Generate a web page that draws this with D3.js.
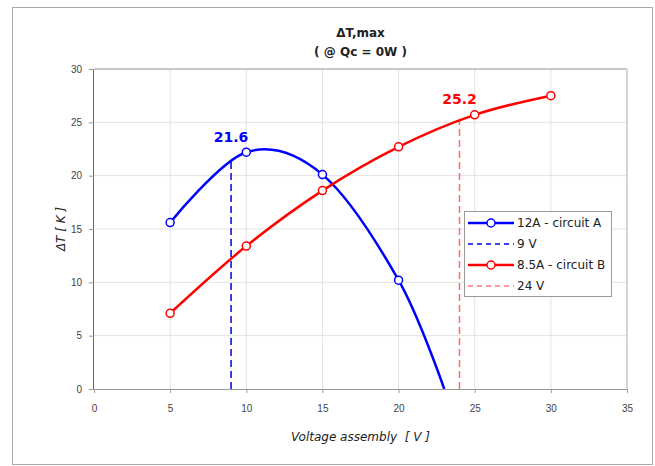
<!DOCTYPE html>
<html>
<head>
<meta charset="utf-8">
<script src="https://cdn.jsdelivr.net/npm/d3@7"></script>
<style>
  body { margin: 0; background: #fff; }
  svg { font-family: "DejaVu Sans", sans-serif; }
</style>
</head>
<body>
<svg id="chart" width="655" height="466"></svg>
<script>
// data
var voltsA = [5, 10, 15, 20]
var deltaA = [15.6, 22.2, 20.1, 10.2]
var tailA = [23, 0] // where the blue curve leaves the plot (no marker)
var voltsB = [5, 10, 15, 20, 25, 30]
var deltaB = [7.1, 13.4, 18.6, 22.7, 25.7, 27.5]
var markA = { v: 9, dt: 21.6, label: '21.6' }
var markB = { v: 24, dt: 25.2, label: '25.2' }
var xTicks = [0, 5, 10, 15, 20, 25, 30, 35]
var yTicks = [0, 5, 10, 15, 20, 25, 30]
var legendNames = ['12A - circuit A', '9 V', '8.5A - circuit B', '24 V']

var margin = { top: 69, right: 28, bottom: 77, left: 94 }
var width = 655, height = 466
var svg = d3.select('#chart')

// outer frame
svg.append('rect')
  .attr('x', 12.5).attr('y', 7.5)
  .attr('width', 640).attr('height', 457)
  .attr('fill', 'none').attr('stroke', '#aaa')

var xScale = d3.scaleLinear().domain([0, 35]).range([margin.left, width - margin.right])
var yScale = d3.scaleLinear().domain([0, 30]).range([height - margin.bottom, margin.top])

var x0 = xScale(0), x1 = xScale(35), y0 = yScale(0), y1 = yScale(30)

// grid
var grid = svg.append('g')
grid.selectAll('.vg').data(xTicks.slice(1)).enter().append('line')
  .attr('x1', d => xScale(d)).attr('x2', d => xScale(d))
  .attr('y1', y0).attr('y2', y1)
  .attr('stroke', '#e2e2e2')
grid.selectAll('.hg').data(yTicks.slice(1)).enter().append('line')
  .attr('x1', x0).attr('x2', x1)
  .attr('y1', d => yScale(d)).attr('y2', d => yScale(d))
  .attr('stroke', '#e2e2e2')

// plot border top / right
svg.append('line').attr('x1', x0).attr('x2', x1).attr('y1', y1).attr('y2', y1)
  .attr('stroke', '#c8c8c8').attr('stroke-width', 2)
svg.append('line').attr('x1', x1).attr('x2', x1).attr('y1', y1).attr('y2', y0)
  .attr('stroke', '#bbb')

// axes
var xAxis = d3.axisBottom(xScale).tickValues(xTicks).tickSize(4).tickPadding(12)
var yAxis = d3.axisLeft(yScale).tickValues(yTicks).tickSize(5).tickPadding(7)

var gx = svg.append('g').attr('transform', 'translate(0,' + y0 + ')').call(xAxis)
var gy = svg.append('g').attr('transform', 'translate(' + x0 + ',0)').call(yAxis)
gx.select('.domain').attr('stroke', '#999').attr('d', 'M' + x0 + ',0.5H' + x1)
gy.select('.domain').attr('stroke', '#666').attr('d', 'M-0.5,' + y0 + 'V' + y1)
gx.selectAll('.tick line').attr('stroke', '#999')
gy.selectAll('.tick line').attr('stroke', '#999')
gx.selectAll('text').attr('fill', '#444').style('font-size', '10px')
gy.selectAll('text').attr('fill', '#444').style('font-size', '10px')

// clip for the curves
svg.append('clipPath').attr('id', 'plotClip')
  .append('rect').attr('x', x0).attr('y', y1 - 6)
  .attr('width', x1 - x0 + 6).attr('height', y0 - y1 + 6)

var line = d3.line()
  .x(d => xScale(d[0])).y(d => yScale(d[1]))
  .curve(d3.curveCardinal.tension(0))

var ptsA = voltsA.map((v, i) => [v, deltaA[i]])
var ptsB = voltsB.map((v, i) => [v, deltaB[i]])

// dashed markers
svg.append('line')
  .attr('x1', xScale(markA.v)).attr('x2', xScale(markA.v))
  .attr('y1', y0).attr('y2', yScale(markA.dt))
  .attr('stroke', '#0000dd').attr('stroke-width', 1.5).attr('stroke-dasharray', '7,4')
svg.append('line')
  .attr('x1', xScale(markB.v)).attr('x2', xScale(markB.v))
  .attr('y1', y0).attr('y2', yScale(markB.dt))
  .attr('stroke', '#ff6b6b').attr('stroke-width', 1.5).attr('stroke-dasharray', '7,4')

var curves = svg.append('g').attr('clip-path', 'url(#plotClip)')
curves.append('path').datum(ptsA.concat([tailA]))
  .attr('d', line).attr('fill', 'none').attr('stroke', '#0000ff').attr('stroke-width', 2.5)
curves.append('path').datum(ptsB)
  .attr('d', line).attr('fill', 'none').attr('stroke', '#ff0000').attr('stroke-width', 2.5)

svg.append('g').selectAll('circle').data(ptsA).enter().append('circle')
  .attr('cx', d => xScale(d[0])).attr('cy', d => yScale(d[1])).attr('r', 4)
  .attr('fill', '#fff').attr('stroke', '#0000ff').attr('stroke-width', 1.5)
svg.append('g').selectAll('circle').data(ptsB).enter().append('circle')
  .attr('cx', d => xScale(d[0])).attr('cy', d => yScale(d[1])).attr('r', 4)
  .attr('fill', '#fff').attr('stroke', '#ff0000').attr('stroke-width', 1.5)

// value labels
svg.append('text').attr('x', xScale(markA.v)).attr('y', yScale(markA.dt) - 17)
  .attr('text-anchor', 'middle').attr('fill', '#0000ff')
  .style('font-size', '14px').style('font-weight', 'bold').text(markA.label)
svg.append('text').attr('x', xScale(markB.v)).attr('y', yScale(markB.dt) - 16)
  .attr('text-anchor', 'middle').attr('fill', '#ff0000')
  .style('font-size', '14px').style('font-weight', 'bold').text(markB.label)

// titles
svg.append('text').attr('x', (x0 + x1) / 2).attr('y', 37).attr('text-anchor', 'middle')
  .style('font-size', '12px').style('font-weight', 'bold').attr('fill', '#222').text('ΔT,max')
svg.append('text').attr('x', (x0 + x1) / 2).attr('y', 56).attr('text-anchor', 'middle')
  .style('font-size', '12px').style('font-weight', 'bold').attr('fill', '#222').text('( @ Qc = 0W )')
svg.append('text').attr('x', (x0 + x1) / 2).attr('y', 441).attr('text-anchor', 'middle')
  .style('font-size', '12px').style('font-style', 'italic').style('white-space', 'pre')
  .attr('fill', '#222')
  .text('Voltage assembly  [ V ]')
svg.append('text').attr('transform', 'translate(65,' + ((y0 + y1) / 2) + ') rotate(-90)')
  .attr('text-anchor', 'middle')
  .style('font-size', '12px').style('font-style', 'italic').attr('fill', '#222')
  .text('ΔT [ K ]')

// legend
var leg = svg.append('g').attr('transform', 'translate(464,211)')
leg.append('rect').attr('x', 0.5).attr('y', 0.5).attr('width', 147).attr('height', 85)
  .attr('fill', '#fff').attr('stroke', '#999')
var legStyle = [
  { c: '#0000ff', dash: null, dot: true },
  { c: '#0000dd', dash: '5,4', dot: false },
  { c: '#ff0000', dash: null, dot: true },
  { c: '#ff7a7a', dash: '5,4', dot: false }
]
legendNames.forEach(function(name, i) {
  var yy = 12 + i * 21
  var s = legStyle[i]
  leg.append('line').attr('x1', 4).attr('x2', 50).attr('y1', yy).attr('y2', yy)
    .attr('stroke', s.c).attr('stroke-width', s.dot ? 2.5 : 1.5)
    .attr('stroke-dasharray', s.dash)
  if (s.dot) {
    leg.append('circle').attr('cx', 27).attr('cy', yy).attr('r', 4)
      .attr('fill', '#fff').attr('stroke', s.c).attr('stroke-width', 1.5)
  }
  leg.append('text').attr('x', 53).attr('y', yy + 4)
    .style('font-size', '12px').attr('fill', '#222').text(name)
})
</script>
</body>
</html>
